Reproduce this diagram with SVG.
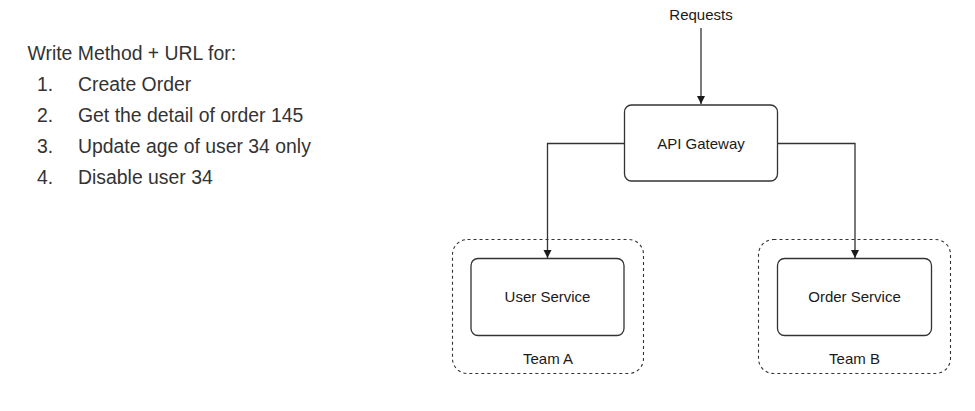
<svg xmlns="http://www.w3.org/2000/svg" width="975" height="411" viewBox="0 0 975 411">
<style>
.t{font-family:"Liberation Sans",Arial,sans-serif;fill:#333}
.d{font-family:"Liberation Sans",Arial,sans-serif;fill:#1a1a1a;font-size:15px;text-anchor:middle}
.box{fill:#fff;stroke:#333;stroke-width:1.3}
.team{fill:none;stroke:#333;stroke-width:1.1;stroke-dasharray:3 3}
.c{fill:none;stroke:#333;stroke-width:1.3}
</style>
<defs>
<marker id="arr" markerWidth="10" markerHeight="10" refX="8" refY="4" orient="auto" markerUnits="userSpaceOnUse">
<path d="M0,0 L8,4 L0,8 Z" fill="#1a1a1a"/>
</marker>
</defs>
<rect width="975" height="411" fill="#fff"/>
<g id="question" class="t" font-size="19.4">
<text x="27.5" y="60">Write Method + URL for:</text>
<text x="37" y="91">1.</text><text x="78" y="91">Create Order</text>
<text x="37" y="122">2.</text><text x="78" y="122">Get the detail of order 145</text>
<text x="37" y="153">3.</text><text x="78" y="153">Update age of user 34 only</text>
<text x="37" y="184">4.</text><text x="78" y="184">Disable user 34</text>
</g>
<g id="requests"><text class="d" x="701" y="20">Requests</text></g>
<g id="teamA">
<rect class="team" x="452.5" y="239.5" width="191" height="134" rx="15"/>
<text class="d" x="548" y="364">Team A</text>
</g>
<g id="teamB">
<rect class="team" x="758.5" y="239.5" width="192" height="134" rx="15"/>
<text class="d" x="854.5" y="364">Team B</text>
</g>
<g id="connectors">
<path class="c" d="M701,28 V104" marker-end="url(#arr)"/>
<path class="c" d="M624,143.5 H547.5 V258" marker-end="url(#arr)"/>
<path class="c" d="M777,143.5 H855 V258" marker-end="url(#arr)"/>
</g>
<g id="gateway">
<rect class="box" x="624.5" y="105" width="153" height="76" rx="7"/>
<text class="d" x="701" y="149">API Gateway</text>
</g>
<g id="userService">
<rect class="box" x="471" y="258.5" width="153" height="77" rx="7"/>
<text class="d" x="547.5" y="302">User Service</text>
</g>
<g id="orderService">
<rect class="box" x="777.5" y="258.5" width="154" height="77" rx="7"/>
<text class="d" x="854.5" y="302">Order Service</text>
</g>
</svg>
